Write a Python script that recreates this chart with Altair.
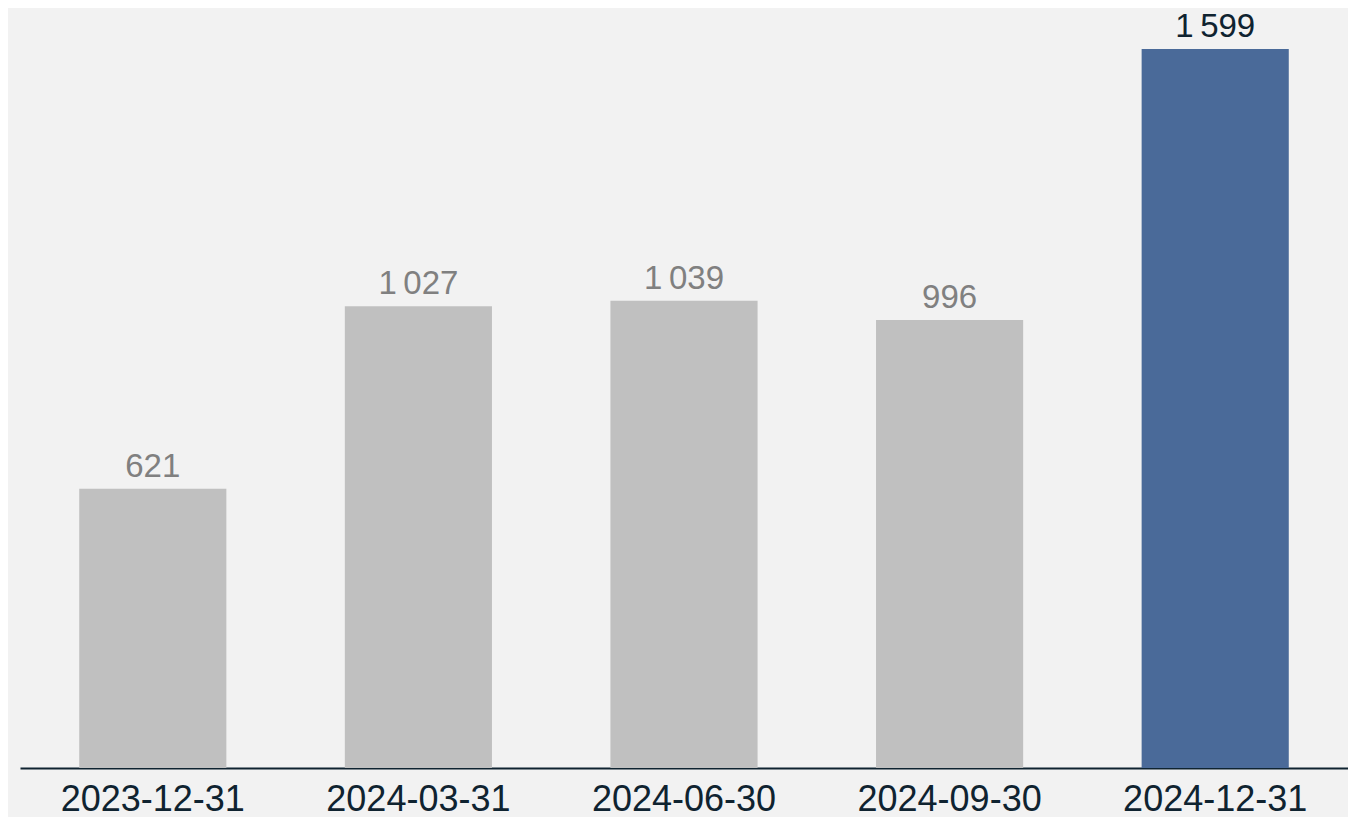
import altair as alt
import pandas as pd

dates = ["2023-12-31", "2024-03-31", "2024-06-30", "2024-09-30", "2024-12-31"]
values = [621, 1027, 1039, 996, 1599]
highlight = [False, False, False, False, True]

labels = [f"{v:,}".replace(",", "\u2009") for v in values]

df = pd.DataFrame({"date": dates, "value": values, "label": labels, "hl": highlight})

FONT = "Liberation Sans"

base = alt.Chart(df).encode(
    x=alt.X(
        "date:N",
        sort=dates,
        title=None,
        scale=alt.Scale(paddingInner=0.446, paddingOuter=0.223),
        axis=alt.Axis(
            labelAngle=0,
            labelFont=FONT,
            labelFontSize=36,
            labelColor="#0f2330",
            labelPadding=14,
            labelLimit=0,
            ticks=False,
            domainColor="#0f2330",
            domainWidth=2,
            grid=False,
        ),
    ),
    y=alt.Y("value:Q", axis=None, scale=alt.Scale(domain=[0, 1690], nice=False)),
)

bars = base.mark_bar().encode(
    color=alt.Color(
        "hl:N",
        scale=alt.Scale(domain=[False, True], range=["#c0c0c0", "#4a6a99"]),
        legend=None,
    )
)

text = base.mark_text(
    baseline="alphabetic", dy=-12, font=FONT, fontSize=33
).encode(
    text="label:N",
    color=alt.Color(
        "hl:N",
        scale=alt.Scale(domain=[False, True], range=["#808080", "#0f2330"]),
        legend=None,
    ),
)

chart = (
    alt.layer(bars, text)
    .resolve_scale(color="independent")
    .properties(
        width=1328,
        height=760,
        padding={"left": 12, "top": 0, "right": 0, "bottom": 0},
        background="#f2f2f2",
    )
    .configure_view(stroke=None, fill="#f2f2f2")
)

chart.save("out.html", embed_options={"renderer": "svg", "actions": False})
